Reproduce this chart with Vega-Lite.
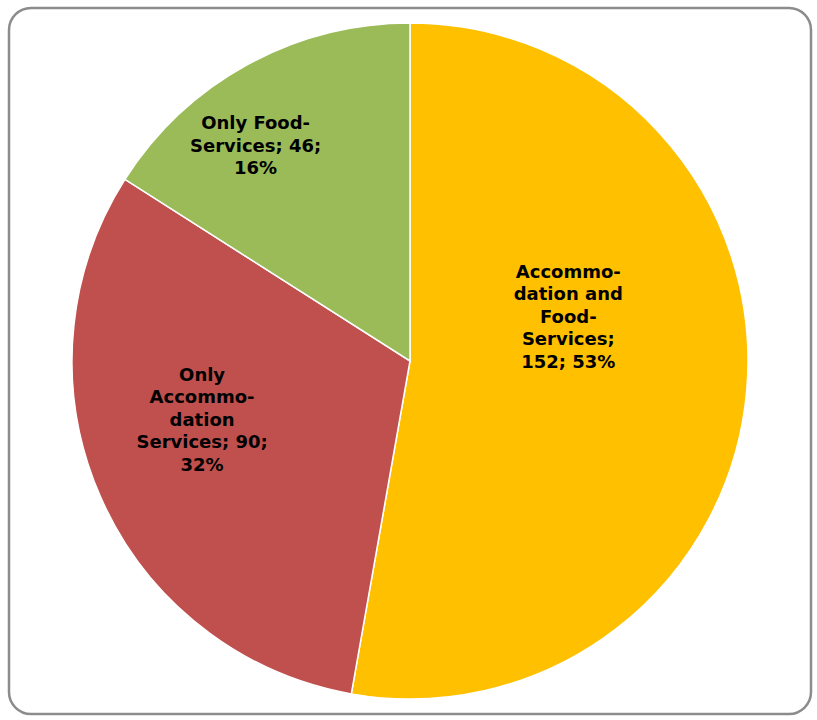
{
  "$schema": "https://vega.github.io/schema/vega-lite/v6.json",
  "width": 817,
  "height": 720,
  "autosize": {"type": "fit", "contains": "padding"},
  "padding": {"left": 9, "top": 8, "right": 6, "bottom": 6},
  "background": "white",
  "view": {"stroke": "#8c8c8c", "strokeWidth": 2.5, "cornerRadius": 22, "fill": "white"},
  "data": {
    "values": [
      {"category": "Accommodation and Food-Services", "value": 152, "order": 1, "label": "Accommo-\ndation and\nFood-\nServices;\n152; 53%"},
      {"category": "Only Accommodation Services", "value": 90, "order": 2, "label": "Only\nAccommo-\ndation\nServices; 90;\n32%"},
      {"category": "Only Food-Services", "value": 46, "order": 3, "label": "Only Food-\nServices; 46;\n16%"}
    ]
  },
  "encoding": {
    "theta": {"field": "value", "type": "quantitative", "stack": true},
    "order": {"field": "order", "type": "quantitative"}
  },
  "layer": [
    {
      "mark": {"type": "arc", "outerRadius": 338, "stroke": "white", "strokeWidth": 1.5},
      "encoding": {
        "color": {
          "field": "category",
          "type": "nominal",
          "scale": {
            "domain": ["Accommodation and Food-Services", "Only Accommodation Services", "Only Food-Services"],
            "range": ["#FFC000", "#C0504D", "#9BBB59"]
          },
          "legend": null
        }
      }
    },
    {
      "mark": {"type": "text", "radius": 190, "dx": -31, "dy": -105, "font": "DejaVu Sans", "fontWeight": "bold", "fontSize": 18, "lineHeight": 22.5, "lineBreak": "\n", "align": "center", "baseline": "middle", "color": "black"},
      "encoding": {"text": {"condition": {"test": "datum.order == 1", "field": "label"}, "value": ""}}
    },
    {
      "mark": {"type": "text", "radius": 190, "dx": -34, "dy": -62, "font": "DejaVu Sans", "fontWeight": "bold", "fontSize": 18, "lineHeight": 22.5, "lineBreak": "\n", "align": "center", "baseline": "middle", "color": "black"},
      "encoding": {"text": {"condition": {"test": "datum.order == 2", "field": "label"}, "value": ""}}
    },
    {
      "mark": {"type": "text", "radius": 190, "dx": -63, "dy": -70, "font": "DejaVu Sans", "fontWeight": "bold", "fontSize": 18, "lineHeight": 22.5, "lineBreak": "\n", "align": "center", "baseline": "middle", "color": "black"},
      "encoding": {"text": {"condition": {"test": "datum.order == 3", "field": "label"}, "value": ""}}
    }
  ]
}
